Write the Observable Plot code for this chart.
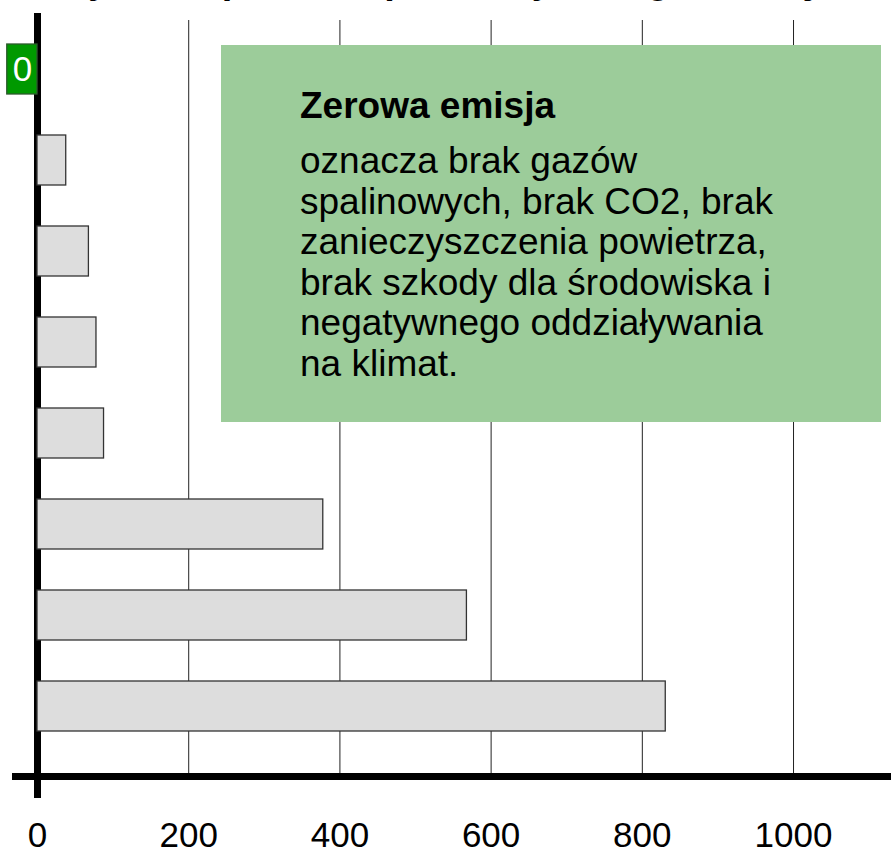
<!DOCTYPE html>
<html>
<head>
<meta charset="utf-8">
<script src="https://cdn.jsdelivr.net/npm/d3@7"></script>
<script src="https://cdn.jsdelivr.net/npm/@observablehq/plot@0.6"></script>
<style>
  html, body { margin: 0; padding: 0; background: #fff; overflow: hidden; }
  #wrap { position: relative; width: 891px; height: 854px; overflow: hidden; font-family: "Liberation Sans", Arial, sans-serif; }
  #title { position: absolute; left: 0; top: -39px; width: 891px; margin: 0; text-align: center;
           font: bold 38px/38px "Liberation Sans", Arial, sans-serif; color: #000; white-space: nowrap; }
  #chart { position: absolute; left: 0; top: 0; }
  #note { position: absolute; left: 221px; top: 45px; width: 660px; height: 377px; background: #9ccc9a; color: #000; }
  #note h3 { position: absolute; left: 79px; top: 42px; margin: 0; font: bold 37px/38px "Liberation Sans", Arial, sans-serif; }
  #note p { position: absolute; left: 79px; top: 96px; margin: 0; width: 570px; font: 37px/40.5px "Liberation Sans", Arial, sans-serif; }
</style>
</head>
<body>
<div id="wrap">
  <h1 id="title">Emisja CO2 podczas produkcji energii elektrycznej</h1>
  <div id="chart"></div>
  <div id="note">
    <h3>Zerowa emisja</h3>
    <p>oznacza brak gazów<br>spalinowych, brak CO2, brak<br>zanieczyszczenia powietrza,<br>brak szkody dla środowiska i<br>negatywnego oddziaływania<br>na klimat.</p>
  </div>
</div>
<script>
// Data
const categories = ["Kategoria 1", "Kategoria 2", "Kategoria 3", "Kategoria 4", "Kategoria 5", "Kategoria 6", "Kategoria 7", "Kategoria 8"];
const values = [0, 38, 68, 78, 88, 378, 568, 831];
const xTicks = [0, 200, 400, 600, 800, 1000];
const gridValues = [200, 400, 600, 800, 1000];

const data = categories.map((c, i) => ({cat: c, v: values[i]}));
const bars = data.filter(d => d.v > 0);
const zeros = data.filter(d => d.v === 0);

const chart = Plot.plot({
  width: 891,
  height: 854,
  marginLeft: 37,
  marginRight: 0,
  marginTop: 0,
  marginBottom: 78,
  style: {fontFamily: "Liberation Sans, Arial, sans-serif", background: "transparent", overflow: "visible"},
  x: {domain: [0, 1129.6], axis: null},
  y: {domain: categories, axis: null, paddingInner: 0.45, paddingOuter: 0.46},
  marks: [
    Plot.ruleX(gridValues, {stroke: "#222", strokeWidth: 1, strokeOpacity: 1, insetTop: 20}),
    Plot.ruleX([0], {stroke: "#000", strokeWidth: 7, insetTop: 13, insetBottom: -22}),
    Plot.frame({anchor: "bottom", stroke: "#000", strokeWidth: 7, insetLeft: -22}),
    Plot.axisX(xTicks, {anchor: "bottom", tickSize: 0, tickPadding: 46, fontSize: 35, fill: "#000", tickFormat: d => String(d), label: null}),
    Plot.barX(bars, {x: "v", y: "cat", fill: "#dddddd", stroke: "#333", strokeWidth: 1.3}),
    Plot.barX(zeros, {x1: -40, x2: 0, y: "cat", fill: "#009900", stroke: "#2d5a2d", strokeWidth: 1.3}),
    Plot.text(zeros, {x: -20, y: "cat", text: d => String(d.v), fill: "#fff", fontSize: 35})
  ]
});
document.getElementById("chart").appendChild(chart);
</script>
</body>
</html>
